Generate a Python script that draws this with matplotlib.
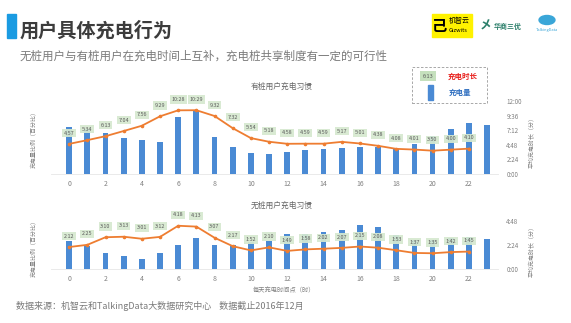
import numpy as np
import matplotlib.pyplot as plt
from matplotlib.patches import Rectangle

plt.rcParams['font.family'] = ['Noto Sans CJK SC', 'DejaVu Sans']

hours = list(range(24))
tick_hours = [0, 2, 4, 6, 8, 10, 12, 14, 16, 18, 20, 22]

# 有桩用户: 充电量比例(%) 和 平均充电时长
pile_share = [5.5, 5.3, 4.8, 4.2, 4.0, 3.8, 6.7, 7.4, 4.4, 3.2, 2.5, 2.4,
              2.6, 2.8, 2.9, 3.1, 3.2, 3.2, 2.9, 3.5, 4.5, 5.3, 6.0, 5.8]
pile_dur = ['4:57', '5:34', '6:13', '7:04', '7:56', '9:29', '10:28', '10:29',
            '9:32', '7:32', '5:54', '5:18', '4:58', '4:59', '4:59', '5:17',
            '5:01', '4:38', '4:08', '4:01', '3:50', '4:00', '4:10']

# 无桩用户
nopile_share = [4.1, 3.4, 2.3, 1.9, 1.5, 2.3, 3.6, 4.5, 3.6, 3.6, 3.9, 4.1,
                5.1, 5.1, 5.4, 5.7, 6.4, 6.1, 5.0, 4.3, 4.3, 4.6, 4.7, 4.4]
nopile_dur = ['2:12', '2:25', '3:10', '3:13', '3:01', '3:12', '4:18', '4:13',
              '3:07', '2:17', '1:52', '2:10', '1:49', '1:58', '2:02', '2:07',
              '2:15', '2:08', '1:53', '1:37', '1:35', '1:42', '1:45']

top_ticks = ['0:00', '2:24', '4:48', '7:12', '9:36', '12:00']
bottom_ticks = ['0:00', '2:24', '4:48']

BAR = '#4a8ad4'
LINE = '#ee7d31'
GRAY = '#808080'
W, H = 571, 323


def to_min(s):
    h, m = s.split(':')
    return int(h) * 60 + int(m)


def fx(px):
    return px / W


def fy(py):
    return 1 - py / H


fig = plt.figure(figsize=(W / 100, H / 100), dpi=100)

# header
fig.patches.append(Rectangle((fx(7), fy(38)), fx(9), 24 / H, color='#1a9be2',
                             transform=fig.transFigure))
fig.text(fx(20), fy(31), '用户具体充电行为', fontsize=13.8, fontweight='bold',
         color='#3c3c3c', va='center')
fig.text(fx(20), fy(56), '无桩用户与有桩用户在充电时间上互补，充电桩共享制度有一定的可行性',
         fontsize=8.3, color='#7a7a7a', va='center')

# logos (text stand-ins)
fig.patches.append(Rectangle((fx(432), fy(37)), fx(40), 23 / H, color='#fff200',
                             transform=fig.transFigure))
fig.text(fx(440), fy(25.5), '己', fontsize=11, fontweight='bold', ha='center',
         va='center', color='black')
fig.text(fx(449), fy(21), '机智云', fontsize=5, va='center', color='black')
fig.text(fx(449), fy(30), 'Gizwits', fontsize=4, va='center', color='black')
fig.text(fx(486), fy(26), '㐅', fontsize=9, color='#2b7f6a', ha='center',
         va='center', fontweight='bold')
fig.text(fx(494), fy(26.5), '华商三优', fontsize=5, color='#2b7f6a', va='center',
         fontweight='bold')
fig.patches.append(plt.Circle((fx(547), fy(20)), 4.5 / H, color='#3aa6d8',
                              transform=fig.transFigure))
fig.text(fx(547), fy(30), 'TalkingData', fontsize=2.8, color='#3aa6d8',
         ha='center', va='center')


def panel(rect, share, dur, lim_share, tick_strs, title, title_y):
    ax = fig.add_axes(rect)
    ax.bar(hours, share, width=0.32, color=BAR, zorder=2)
    ax.set_xlim(-1, 23.6)
    ax.set_ylim(0, lim_share)
    ax.set_xticks(tick_hours)
    ax.tick_params(axis='x', length=0, labelsize=5, colors=GRAY, pad=4)
    ax.set_yticks([])
    for s in ['top', 'left', 'right']:
        ax.spines[s].set_visible(False)
    ax.spines['bottom'].set_color('#e6e6e6')
    ax.spines['bottom'].set_linewidth(0.6)

    axr = ax.twinx()
    mins = [to_min(s) for s in dur]
    axr.plot(range(len(mins)), mins, color=LINE, lw=1.3, marker='o', ms=1.6,
             zorder=3)
    tick_vals = [to_min(s) for s in tick_strs]
    axr.set_ylim(0, tick_vals[-1])
    axr.set_yticks(tick_vals)
    axr.set_yticklabels(tick_strs)
    axr.tick_params(axis='y', length=0, labelsize=4.5, colors=GRAY, pad=6)
    for s in axr.spines.values():
        s.set_visible(False)
    for i, (m, s) in enumerate(zip(mins, dur)):
        axr.annotate(s, (i, m), xytext=(0, 6), textcoords='offset points',
                     ha='center', va='bottom', fontsize=3.9, color='#5a5a5a',
                     bbox=dict(boxstyle='square,pad=0.3', fc='#d6e9d0',
                               ec='none', alpha=0.92), zorder=5)
    fig.text(fx(282), fy(title_y), title, fontsize=5.6, color='#666666',
             ha='center', va='center')
    return ax


panel([fx(51), fy(174), fx(498) - fx(51), fy(101) - fy(174)],
      pile_share, pile_dur, 8.57, top_ticks, '有桩用户充电习惯', 87)
panel([fx(51), fy(269.3), fx(498) - fx(51), fy(220.7) - fy(269.3)],
      nopile_share, nopile_dur, 7.07, bottom_ticks, '无桩用户充电习惯', 206)

# axis titles
for yc in (138, 247):
    fig.text(fx(33), fy(yc), '充电量比例（百分比）', fontsize=4.3, color=GRAY,
             rotation=90, ha='center', va='center')
for yc in (141, 250):
    fig.text(fx(531), fy(yc), '平均充电时长（分）', fontsize=4.3, color=GRAY,
             rotation=90, ha='center', va='center')
fig.text(fx(284), fy(290), '每天充电时间点（时）', fontsize=4.5, color=GRAY,
         ha='center', va='center')

# legend
fig.patches.append(Rectangle((fx(412), fy(103)), fx(75), 36 / H, fill=False,
                             ec='#9a9a9a', ls=(0, (3, 2)), lw=0.6,
                             transform=fig.transFigure))
fig.text(fx(428), fy(76), '6:13', fontsize=4, color='#5a5a5a', ha='center',
         va='center', bbox=dict(boxstyle='square,pad=0.5', fc='#c5e0bd', ec='none'))
fig.text(fx(463), fy(76), '充电时长', fontsize=5.4, color='#e8211d',
         fontweight='bold', ha='center', va='center')
fig.patches.append(Rectangle((fx(428), fy(100)), fx(5), 15 / H, color=BAR,
                             transform=fig.transFigure))
fig.text(fx(460), fy(92), '充电量', fontsize=5.4, color='#2f6fc0',
         fontweight='bold', ha='center', va='center')

fig.text(fx(16), fy(306),
         '数据来源：机智云和TalkingData大数据研究中心    数据截止2016年12月',
         fontsize=6.5, color='#7a7a7a', va='center')

fig.savefig('out.png', dpi=100)
